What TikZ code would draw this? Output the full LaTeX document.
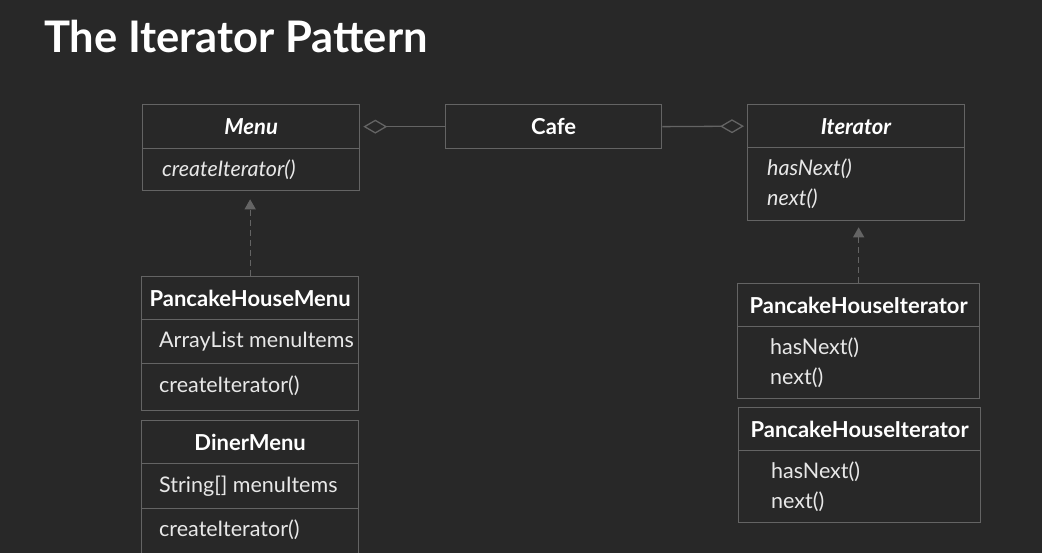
\documentclass[tikz,border=0pt]{standalone}
\usepackage{fontspec}
\setmainfont{Lato}
\usetikzlibrary{arrows.meta}
\definecolor{bg}{HTML}{282828}
\definecolor{linec}{HTML}{646464}
\definecolor{txt}{HTML}{E8E8E8}
\begin{document}
\begin{tikzpicture}[x=1pt,y=-1pt,
  cell/.style={draw=linec, line width=1.3pt, inner sep=0pt, anchor=north west},
  ttl/.style={text=white, inner sep=0pt, font=\fontsize{22}{26}\selectfont\bfseries},
  mth/.style={text=txt, anchor=west, inner sep=0pt, align=left, font=\fontsize{21.5}{30}\selectfont},
  agg/.style={draw=linec, line width=1.3pt, {Diamond[open, length=24pt, width=14pt, line width=1.3pt]}-, shorten <=3pt},
  realize/.style={draw=linec, line width=1.3pt, dash pattern=on 6pt off 4pt, -{Triangle[length=10pt, width=11pt]}}
]
\useasboundingbox (0,0) rectangle (1042,553);
\fill[bg] (0,0) rectangle (1042,553);

% title
\node[anchor=base west, inner sep=0pt, text=white, font=\fontsize{43.5}{50}\selectfont\bfseries] (title) at (44,53) {The Iterator Pattern};

% Menu
\node[cell, minimum width=217pt, minimum height=44pt] (menuT) at (142,104) {};
\node[cell, minimum width=217pt, minimum height=42pt] (menuB) at (142,148) {};
\node[ttl] (menuTt) at (menuT.center) {\textit{Menu}};
\node[mth] (menuBt) at ([xshift=20pt]menuB.west) {\textit{createIterator()}};

% Cafe
\node[cell, minimum width=216pt, minimum height=44pt] (cafe) at (445,104) {};
\node[ttl] (cafet) at (cafe.center) {Cafe};

% Iterator
\node[cell, minimum width=217pt, minimum height=43pt] (iterT) at (747,104) {};
\node[cell, minimum width=217pt, minimum height=73pt] (iterB) at (747,147) {};
\node[ttl] (iterTt) at (iterT.center) {\textit{Iterator}};
\node[mth] (iterBt) at ([xshift=20pt]iterB.west) {\textit{hasNext()}\\\textit{next()}};

% PancakeHouseMenu
\node[cell, minimum width=217pt, minimum height=43pt] (phmT) at (141,276) {};
\node[cell, minimum width=217pt, minimum height=44pt] (phmA) at (141,319) {};
\node[cell, minimum width=217pt, minimum height=47pt] (phmB) at (141,363) {};
\node[ttl] (phmTt) at (phmT.center) {PancakeHouseMenu};
\node[mth] (phmAt) at ([xshift=18pt]phmA.west) {ArrayList menuItems};
\node[mth] (phmBt) at ([xshift=18pt,yshift=1pt]phmB.west) {createIterator()};

% DinerMenu
\node[cell, minimum width=217pt, minimum height=43pt] (dmT) at (141,420) {};
\node[cell, minimum width=217pt, minimum height=45pt] (dmA) at (141,463) {};
\node[cell, minimum width=217pt, minimum height=60pt] (dmB) at (141,508) {};
\node[ttl] (dmTt) at (dmT.center) {DinerMenu};
\node[mth] (dmAt) at ([xshift=18pt]dmA.west) {String[] menuItems};
\node[mth] (dmBt) at ([xshift=18pt,yshift=-22pt]dmB.north west) {createIterator()};

% PancakeHouseIterator 1
\node[cell, minimum width=242pt, minimum height=43pt] (phiT) at (737,283) {};
\node[cell, minimum width=242pt, minimum height=72pt] (phiB) at (737,326) {};
\node[ttl] (phiTt) at (phiT.center) {PancakeHouseIterator};
\node[mth] (phiBt) at ([xshift=33pt]phiB.west) {hasNext()\\next()};

% PancakeHouseIterator 2
\node[cell, minimum width=242pt, minimum height=43pt] (phjT) at (738,407) {};
\node[cell, minimum width=242pt, minimum height=72pt] (phjB) at (738,450) {};
\node[ttl] (phjTt) at (phjT.center) {PancakeHouseIterator};
\node[mth] (phjBt) at ([xshift=33pt]phjB.west) {hasNext()\\next()};

% connectors
\draw[agg] (menuT.east) -- (cafe.west);
\draw[agg] (iterT.west) -- (cafe.east);
\draw[realize, shorten >=8pt] (phmT.north) -- (phmT.north |- menuB.south);
\draw[realize, shorten >=6pt] (phiT.north) -- (phiT.north |- iterB.south);
\end{tikzpicture}
\end{document}
